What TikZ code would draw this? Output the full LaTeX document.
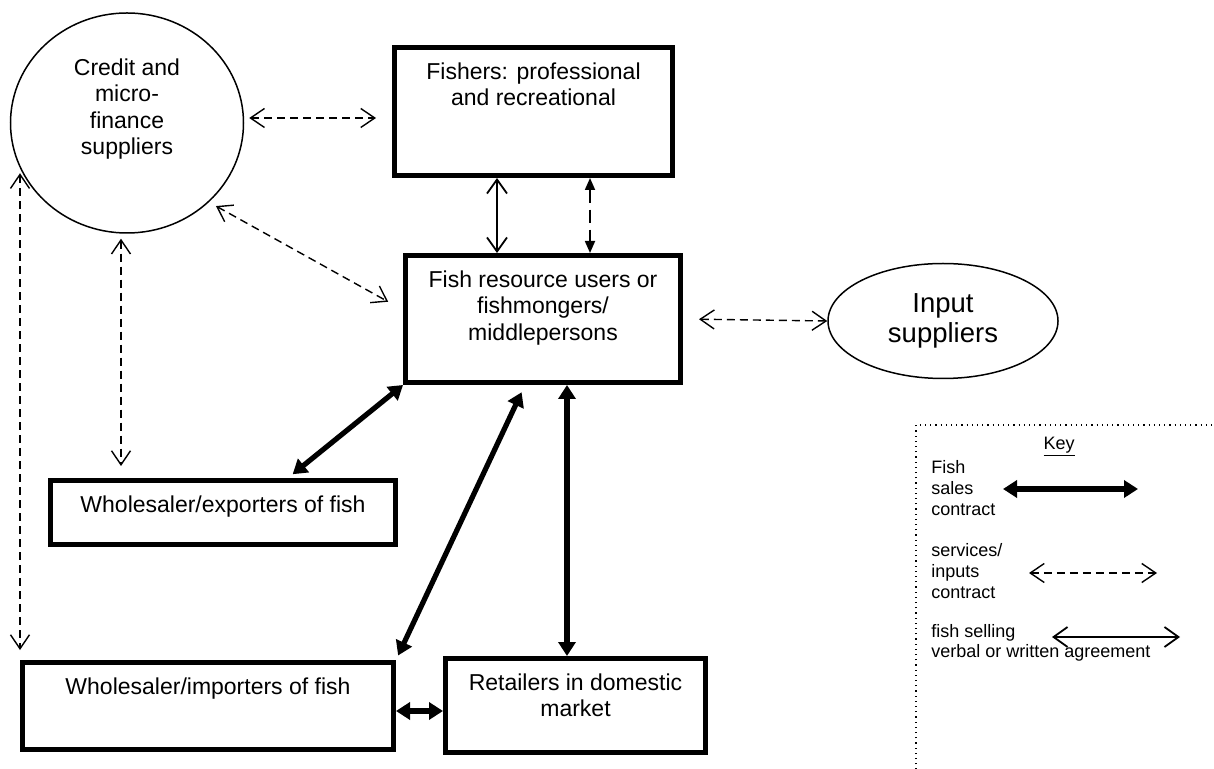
\documentclass[tikz,border=0pt]{standalone}
\usepackage{fontspec}
\setmainfont{Liberation Sans}
\usetikzlibrary{positioning,arrows.meta,shapes.geometric}

\tikzset{
  actor/.style={draw, line width=2.5pt, inner sep=0pt},
  bubble/.style={draw, ellipse, line width=0.75pt, inner sep=0pt},
  lbl/.style={inner sep=0pt, align=center, font=\fontsize{11.5}{13.3}\selectfont},
  keytxt/.style={inner sep=0pt, align=left, font=\fontsize{9}{10.3}\selectfont},
  sale/.style={line width=2.6pt, {Triangle[length=7pt,width=8.5pt]}-{Triangle[length=7pt,width=8.5pt]}},
  service/.style={line width=0.7pt, dash pattern=on 4pt off 2.5pt,
    {Straight Barb[length=7pt,width=9.5pt]}-{Straight Barb[length=7pt,width=9.5pt]}},
  agree/.style={line width=0.9pt, {Straight Barb[length=7pt,width=10pt]}-{Straight Barb[length=7pt,width=10pt]}},
  tieup/.style={line width=0.9pt, dash pattern=on 6.5pt off 3.5pt,
    {Triangle[length=6pt,width=5pt]}-{Triangle[length=6pt,width=5pt]}},
}

\begin{document}
\begin{tikzpicture}[x=0.5pt, y=-0.5pt]
  \useasboundingbox (0,0) rectangle (1214,769);

  % actors
  \node[bubble, minimum width=116.5pt, minimum height=110pt] (credit) at (127,123) {};
  \node[lbl] (creditlbl) at (127,109) {Credit and\\micro-\\finance\\suppliers};
  \node[actor, minimum width=139pt, minimum height=64pt] (fishers) at (533.5,111.5) {};
  \node[lbl, below=8.5pt of fishers.north] (fisherslbl) {Fishers: professional\\and recreational};
  \node[actor, minimum width=137.5pt, minimum height=63.5pt] (fishres) at (543,319) {};
  \node[lbl, below=8.5pt of fishres.north] (fishreslbl) {Fish resource users or\\fishmongers/\\middlepersons};
  \node[bubble, minimum width=115pt, minimum height=57.5pt,
        font=\fontsize{13.75}{15}\selectfont, align=center] (input) at (943,321) {Input\\suppliers};
  \node[actor, minimum width=172.5pt, minimum height=32pt] (exporters) at (223,512.5) {};
  \node[lbl, below=8.5pt of exporters.north] (exporterslbl) {Wholesaler/exporters of fish};
  \node[actor, minimum width=185.5pt, minimum height=43.5pt] (importers) at (208,706) {};
  \node[lbl, below=8.5pt of importers.north] (importerslbl) {Wholesaler/importers of fish};
  \node[actor, minimum width=130pt, minimum height=47pt] (retailers) at (575.5,705.5) {};
  \node[lbl, below=8.5pt of retailers.north] (retailerslbl) {Retailers in domestic\\market};

  % services / inputs contracts
  \draw[service, shorten <=2.5pt, shorten >=8pt] ([yshift=2.5pt]credit.east) -- ([yshift=2.5pt]credit.east -| fishers.west);
  \draw[service, shorten <=4pt, shorten >=8.5pt] (credit.-44) -- ([yshift=4.5pt]fishres.west);
  \draw[service, shorten <=2.5pt, shorten >=6pt] ([xshift=-3pt]credit.south) -- ([xshift=-3pt]credit.south |- exporters.north);
  \draw[service, shorten <=1.5pt, shorten >=5pt] (credit.204 -| importers.north west) -- (importers.north west);
  \draw[service, shorten <=8pt] (fishres.east) -- (input.west);

  % fishers to fish resource users
  \draw[agree] ([xshift=-18.25pt]fishers.south) -- ([xshift=-18.25pt]fishers.south |- fishres.north);
  \draw[tieup] ([xshift=28.25pt]fishers.south) -- ([xshift=28.25pt]fishers.south |- fishres.north);

  % fish sales contracts
  \draw[sale, shorten >=3pt] (fishres.south west) -- ([xshift=32.5pt]exporters.north);
  \draw[sale, shorten <=4pt, shorten >=2.5pt] ([xshift=-9pt]fishres.south) -- (importers.north east);
  \draw[sale] ([xshift=12pt]fishres.south) -- ([xshift=12pt]fishres.south |- retailers.north);
  \draw[sale] ([yshift=-2.5pt]importers.east) -- ([yshift=-2.5pt]importers.east -| retailers.west);

  % key
  \draw[dotted, line width=0.6pt] (916,780) |- (1230,425);
  \node[keytxt] (keytitle) at (1059,447) {\underline{Key}};
  \node[keytxt, anchor=west] (keysale) at (931,488) {Fish\\sales\\contract};
  \node[keytxt, anchor=west] (keyservice) at (931,571) {services/\\inputs\\contract};
  \node[keytxt, anchor=west] (keyagree) at (931,643) {fish selling\\verbal or written agreement};
  \coordinate (s1) at (1003,489);
  \coordinate (s2) at (1138,489);
  \coordinate (v1) at (1029,573);
  \coordinate (v2) at (1157,573);
  \coordinate (a1) at (1052,637);
  \coordinate (a2) at (1180,637);
  \draw[sale] (s1) -- (s2);
  \draw[service] (v1) -- (v2);
  \draw[agree] (a1) -- (a2);
\end{tikzpicture}
\end{document}
